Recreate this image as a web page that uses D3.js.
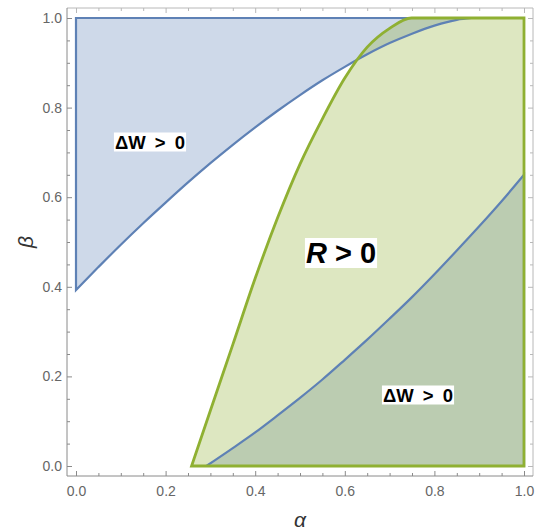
<!DOCTYPE html>
<html>
<head>
<meta charset="utf-8">
<script src="https://cdn.jsdelivr.net/npm/d3@7"></script>
<style>
  body { margin: 0; background: #fff; }
  text { font-family: "Liberation Sans", Arial, sans-serif; }
</style>
</head>
<body>
<div id="chart"></div>
<script>
// boundary of the upper  ΔW > 0 region (region lies above this curve)
var wUpperAlpha = [0, 0.05, 0.1, 0.15, 0.2, 0.25, 0.3, 0.35, 0.4, 0.45, 0.5, 0.55, 0.6, 0.65, 0.7, 0.75, 0.8, 0.85, 0.883];
var wUpperBeta  = [0.393, 0.444, 0.494, 0.542, 0.588, 0.633, 0.676, 0.717, 0.756, 0.793, 0.828, 0.861, 0.891, 0.919, 0.944, 0.965, 0.983, 0.996, 1.0];

// boundary of the lower ΔW > 0 region (region lies below this curve)
var wLowerAlpha = [0.291, 0.35, 0.4, 0.45, 0.5, 0.55, 0.6, 0.65, 0.7, 0.75, 0.8, 0.85, 0.9, 0.95, 1.0];
var wLowerBeta  = [0, 0.040, 0.075, 0.113, 0.152, 0.193, 0.237, 0.282, 0.329, 0.377, 0.428, 0.481, 0.535, 0.591, 0.650];

// boundary of the R > 0 region (region lies below / right of this curve)
var rAlpha = [0.258, 0.3, 0.35, 0.4, 0.45, 0.5, 0.55, 0.6, 0.65, 0.7, 0.749, 0.8, 0.9, 1.0];
var rBeta  = [0, 0.124, 0.271, 0.419, 0.554, 0.674, 0.775, 0.866, 0.935, 0.977, 1.0, 1.0, 1.0, 1.0];

var majorTicks = [0, 0.2, 0.4, 0.6, 0.8, 1.0];
var minorTicks = [0.05, 0.1, 0.15, 0.25, 0.3, 0.35, 0.45, 0.5, 0.55, 0.65, 0.7, 0.75, 0.85, 0.9, 0.95];

(function () {
    var W = 536, H = 531;
    var frame = { left: 67, right: 533, top: 8, bottom: 476 };

    var blue = "#5e81b5", green = "#8fb032";

    var svg = d3.select("#chart").append("svg")
        .attr("width", W)
        .attr("height", H);

    var x = d3.scaleLinear().domain([0, 1]).range([76, 524]);
    var y = d3.scaleLinear().domain([0, 1]).range([466, 18]);

    var zip = (a, b) => a.map((v, i) => [v, b[i]]);
    var upper = zip(wUpperAlpha, wUpperBeta);
    var lower = zip(wLowerAlpha, wLowerBeta);
    var rcurve = zip(rAlpha, rBeta);

    var upperArea = d3.area().curve(d3.curveMonotoneX)
        .x(d => x(d[0])).y0(d => y(d[1])).y1(y(1));
    var belowArea = d3.area().curve(d3.curveMonotoneX)
        .x(d => x(d[0])).y0(y(0)).y1(d => y(d[1]));

    // fills
    svg.append("path").attr("d", upperArea(upper))
        .attr("fill", blue).attr("fill-opacity", 0.3);
    svg.append("path").attr("d", belowArea(lower))
        .attr("fill", blue).attr("fill-opacity", 0.3);
    svg.append("path").attr("d", belowArea(rcurve))
        .attr("fill", green).attr("fill-opacity", 0.3);

    // boundaries
    svg.append("path").attr("d", upperArea(upper))
        .attr("fill", "none").attr("stroke", blue).attr("stroke-width", 2.2);
    svg.append("path").attr("d", belowArea(lower))
        .attr("fill", "none").attr("stroke", blue).attr("stroke-width", 2.2);
    svg.append("path").attr("d", belowArea(rcurve))
        .attr("fill", "none").attr("stroke", green).attr("stroke-width", 2.8);

    // frame
    var darkAxis = "#8a8a8a", lightAxis = "#b8b8b8", labelCol = "#666";
    svg.append("line").attr("x1", frame.left).attr("x2", frame.right)
        .attr("y1", frame.top).attr("y2", frame.top).attr("stroke", lightAxis);
    svg.append("line").attr("x1", frame.right).attr("x2", frame.right)
        .attr("y1", frame.top).attr("y2", frame.bottom).attr("stroke", lightAxis);
    svg.append("line").attr("x1", frame.left).attr("x2", frame.right)
        .attr("y1", frame.bottom).attr("y2", frame.bottom).attr("stroke", darkAxis);
    svg.append("line").attr("x1", frame.left).attr("x2", frame.left)
        .attr("y1", frame.top).attr("y2", frame.bottom).attr("stroke", darkAxis);

    var fmt = d3.format(".1f");
    function styleAxis(g, col) {
        g.attr("font-size", 14).attr("font-family", "'Liberation Sans', Arial, sans-serif");
        g.select(".domain").remove();
        g.selectAll("line").attr("stroke", col);
        g.selectAll("text").attr("fill", labelCol).attr("font-size", 14);
    }

    // bottom
    svg.append("g").attr("transform", "translate(0," + frame.bottom + ")")
        .call(d3.axisBottom(x).tickValues(majorTicks).tickFormat(fmt).tickSize(-5).tickPadding(10))
        .call(g => styleAxis(g, darkAxis));
    svg.append("g").attr("transform", "translate(0," + frame.bottom + ")")
        .call(d3.axisBottom(x).tickValues(minorTicks).tickFormat("").tickSize(-3))
        .call(g => styleAxis(g, darkAxis));
    // left
    svg.append("g").attr("transform", "translate(" + frame.left + ",0)")
        .call(d3.axisLeft(y).tickValues(majorTicks).tickFormat(fmt).tickSize(-5).tickPadding(5))
        .call(g => styleAxis(g, darkAxis));
    svg.append("g").attr("transform", "translate(" + frame.left + ",0)")
        .call(d3.axisLeft(y).tickValues(minorTicks).tickFormat("").tickSize(-3))
        .call(g => styleAxis(g, darkAxis));
    // top
    svg.append("g").attr("transform", "translate(0," + frame.top + ")")
        .call(d3.axisTop(x).tickValues(majorTicks).tickFormat("").tickSize(-5))
        .call(g => styleAxis(g, lightAxis));
    svg.append("g").attr("transform", "translate(0," + frame.top + ")")
        .call(d3.axisTop(x).tickValues(minorTicks).tickFormat("").tickSize(-3))
        .call(g => styleAxis(g, lightAxis));
    // right
    svg.append("g").attr("transform", "translate(" + frame.right + ",0)")
        .call(d3.axisRight(y).tickValues(majorTicks).tickFormat("").tickSize(-5))
        .call(g => styleAxis(g, lightAxis));
    svg.append("g").attr("transform", "translate(" + frame.right + ",0)")
        .call(d3.axisRight(y).tickValues(minorTicks).tickFormat("").tickSize(-3))
        .call(g => styleAxis(g, lightAxis));

    // axis titles
    svg.append("text").attr("x", 300).attr("y", 527)
        .attr("text-anchor", "middle").attr("fill", "#333")
        .style("font-size", "21px").style("font-style", "italic").text("α");
    svg.append("text").attr("transform", "translate(33,242) rotate(-90)")
        .attr("text-anchor", "middle").attr("fill", "#333")
        .style("font-size", "21px").style("font-style", "italic").text("β");

    // region labels with white boxes
    function label(cx, cy, size, gap, build) {
        var g = svg.append("g");
        var t = g.append("text").attr("x", cx).attr("y", cy)
            .attr("text-anchor", "middle")
            .attr("dominant-baseline", "central")
            .style("word-spacing", gap + "px")
            .style("font-size", size + "px").style("font-weight", "bold").attr("fill", "#000");
        build(t);
        var bb = t.node().getBBox();
        g.insert("rect", "text")
            .attr("x", bb.x - 1).attr("y", bb.y + 1)
            .attr("width", bb.width + 2).attr("height", bb.height - 2)
            .attr("fill", "#fff");
    }
    label(150, 142, 18.5, 4, t => t.text("ΔW > 0"));
    label(418, 395, 18.5, 4, t => t.text("ΔW > 0"));
    label(341, 253, 29, 0, t => {
        t.append("tspan").style("font-style", "italic").text("R");
        t.append("tspan").text(" > 0");
    });
})()
</script>
</body>
</html>
